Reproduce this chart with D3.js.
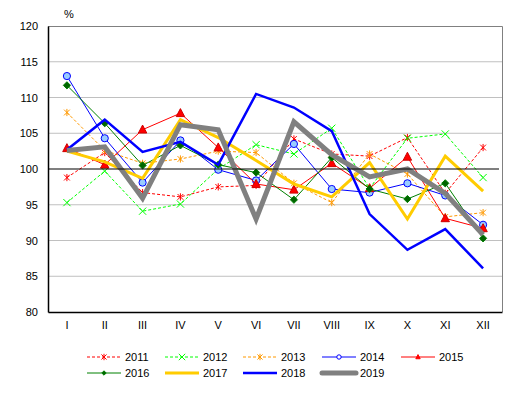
<html>
<head>
<style>
  body { margin: 0; background: #fff; font-family: "Liberation Sans", Arial, sans-serif; }
  text { font-family: "Liberation Sans", Arial, sans-serif; font-size: 11px; fill: #000; }
</style>
<script src="https://cdn.jsdelivr.net/npm/d3@7"></script>
</head>
<body>
<script>
var months = ["I", "II", "III", "IV", "V", "VI", "VII", "VIII", "IX", "X", "XI", "XII"];
var yTicks = [80, 85, 90, 95, 100, 105, 110, 115, 120];

var v2011 = [98.8, 102.3, 96.7, 96.1, 97.5, 97.7, 104.2, 102.1, 101.8, 104.4, 96.6, 103.0];
var v2012 = [95.3, 99.7, 94.1, 95.1, 100.0, 103.4, 102.1, 105.7, 97.3, 104.3, 104.9, 98.8];
var v2013 = [107.9, 102.6, 100.8, 101.4, 102.5, 102.3, 98.0, 95.3, 102.1, 99.3, 93.3, 93.9];
var v2014 = [113.0, 104.3, 98.1, 104.0, 99.9, 98.4, 103.5, 97.2, 96.7, 98.0, 96.3, 92.2];
var v2015 = [102.9, 100.6, 105.5, 107.8, 103.0, 97.9, 97.1, 100.8, 97.3, 101.7, 93.1, 91.7];
var v2016 = [111.7, 106.4, 100.5, 103.3, 100.6, 99.5, 95.7, 101.6, 97.2, 95.8, 98.0, 90.3];
var v2017 = [102.5, 101.0, 98.7, 106.9, 104.4, 101.2, 97.9, 96.1, 100.9, 93.0, 101.8, 96.9];
var v2018 = [102.7, 106.9, 102.4, 103.8, 100.6, 110.5, 108.6, 105.3, 93.7, 88.7, 91.6, 86.1];
var v2019 = [102.6, 103.1, 95.9, 106.2, 105.5, 93.0, 106.6, 102.0, 98.9, 100.0, 96.6, 90.8];

var series = [
  {name: "2011", values: v2011, color: "#ff0000", width: 1, dash: "3,2", marker: "star", fill: "none"},
  {name: "2012", values: v2012, color: "#00ff00", width: 1, dash: "3,2", marker: "x", fill: "none"},
  {name: "2013", values: v2013, color: "#ff9900", width: 1, dash: "3,2", marker: "star", fill: "none"},
  {name: "2014", values: v2014, color: "#0000ff", width: 1, dash: null, marker: "circle", fill: "#99ccff"},
  {name: "2015", values: v2015, color: "#ff0000", width: 1, dash: null, marker: "triangle", fill: "#ff0000"},
  {name: "2016", values: v2016, color: "#008000", width: 1, dash: null, marker: "diamond", fill: "#006400"},
  {name: "2017", values: v2017, color: "#ffcc00", width: 3, dash: null, marker: null},
  {name: "2018", values: v2018, color: "#0000ff", width: 2.5, dash: null, marker: null},
  {name: "2019", values: v2019, color: "#808080", width: 5, dash: null, marker: null}
];

var W = 515, H = 393;
var mLeft = 48, mRight = 502, mTop = 26, mBottom = 312;

var svg = d3.select("body").append("svg").attr("width", W).attr("height", H);

var x = d3.scaleBand().domain(months).range([mLeft, mRight]);
var y = d3.scaleLinear().domain([80, 120]).range([mBottom, mTop]);

// grid
svg.selectAll(".grid").data(yTicks.filter(function(d) { return d > 80 && d < 120 && d != 100; }))
  .enter().append("line")
  .attr("x1", mLeft).attr("x2", mRight)
  .attr("y1", function(d) { return y(d); }).attr("y2", function(d) { return y(d); })
  .attr("stroke", "#c0c0c0").attr("stroke-width", 1);

// plot border top/right
svg.append("path")
  .attr("d", "M" + mLeft + "," + (y(120) + 0.5) + "H" + (mRight + 0.5) + "V" + mBottom)
  .attr("fill", "none").attr("stroke", "#808080").attr("stroke-width", 1);

// axes
var yAxis = d3.axisLeft(y).tickValues(yTicks).tickSize(0).tickPadding(10);
var gy = svg.append("g").attr("transform", "translate(" + mLeft + ",0)").call(yAxis);
gy.select(".domain").attr("stroke", "#000").attr("stroke-width", 1.5);
gy.selectAll("text").style("font-size", "11px").attr("fill", "#000");

var xAxis = d3.axisBottom(x).tickSize(0).tickPadding(9);
var gx = svg.append("g").attr("transform", "translate(0," + mBottom + ")").call(xAxis);
gx.select(".domain").attr("stroke", "#000").attr("stroke-width", 1.5);
gx.selectAll("text").style("font-size", "11px").attr("fill", "#000");

svg.append("text").attr("x", 69).attr("y", 18).attr("text-anchor", "middle").text("%");

function markerPath(type, s) {
  if (type == "star") {
    var a = s * 0.8;
    return "M0," + (-s) + "V" + s + "M" + (-a) + "," + (-a) + "L" + a + "," + a + "M" + (-a) + "," + a + "L" + a + "," + (-a);
  }
  if (type == "x") {
    return "M" + (-s) + "," + (-s) + "L" + s + "," + s + "M" + (-s) + "," + s + "L" + s + "," + (-s);
  }
  if (type == "triangle") {
    return "M0," + (-s * 1.1) + "L" + s + "," + (s * 0.8) + "L" + (-s) + "," + (s * 0.8) + "Z";
  }
  if (type == "diamond") {
    return "M0," + (-s) + "L" + s + ",0L0," + s + "L" + (-s) + ",0Z";
  }
  return d3.symbol(d3.symbolCircle, Math.PI * s * s)();
}

var line = d3.line()
  .x(function(d, i) { return x(months[i]) + x.bandwidth() / 2; })
  .y(function(d) { return y(d); });

series.forEach(function(s) {
  var g = svg.append("g");
  g.append("path")
    .attr("d", line(s.values))
    .attr("fill", "none")
    .attr("stroke", s.color)
    .attr("stroke-width", s.width)
    .attr("stroke-dasharray", s.dash)
    .attr("stroke-linejoin", "miter");
  if (s.marker) {
    var size = s.marker == "circle" ? 3.6 : (s.marker == "triangle" ? 4.2 : 3.6);
    g.selectAll(".m").data(s.values).enter().append("path")
      .attr("transform", function(d, i) { return "translate(" + (x(months[i]) + x.bandwidth() / 2) + "," + y(d) + ")"; })
      .attr("d", markerPath(s.marker, size))
      .attr("fill", s.fill)
      .attr("stroke", s.marker == "triangle" ? "#cc0000" : s.color)
      .attr("stroke-width", 1);
  }
});

// reference line at 100
svg.append("line")
  .attr("x1", mLeft).attr("x2", mRight - 3)
  .attr("y1", y(100)).attr("y2", y(100))
  .attr("stroke", "#000").attr("stroke-width", 1.2);

// legend
var legX = [87, 165, 243, 322, 401];
var legY = [357, 373];
series.forEach(function(s, i) {
  var col = i < 5 ? i : i - 5;
  var row = i < 5 ? 0 : 1;
  var lx = legX[col], ly = legY[row];
  var g = svg.append("g");
  g.append("line")
    .attr("x1", lx).attr("x2", lx + 34)
    .attr("y1", ly).attr("y2", ly)
    .attr("stroke", s.color)
    .attr("stroke-width", s.width)
    .attr("stroke-dasharray", s.dash)
    .attr("stroke-linecap", s.width >= 5 ? "round" : "butt");
  if (s.marker) {
    var ms = s.marker == "star" || s.marker == "x" ? 3.2 : 2.2;
    g.append("path")
      .attr("transform", "translate(" + (lx + 17) + "," + ly + ")")
      .attr("d", markerPath(s.marker, ms))
      .attr("fill", s.marker == "circle" ? "#fff" : s.fill)
      .attr("stroke", s.color).attr("stroke-width", 1);
  }
  g.append("text")
    .attr("x", lx + 38).attr("y", ly + 4)
    .text(s.name);
});
</script>
</body>
</html>
